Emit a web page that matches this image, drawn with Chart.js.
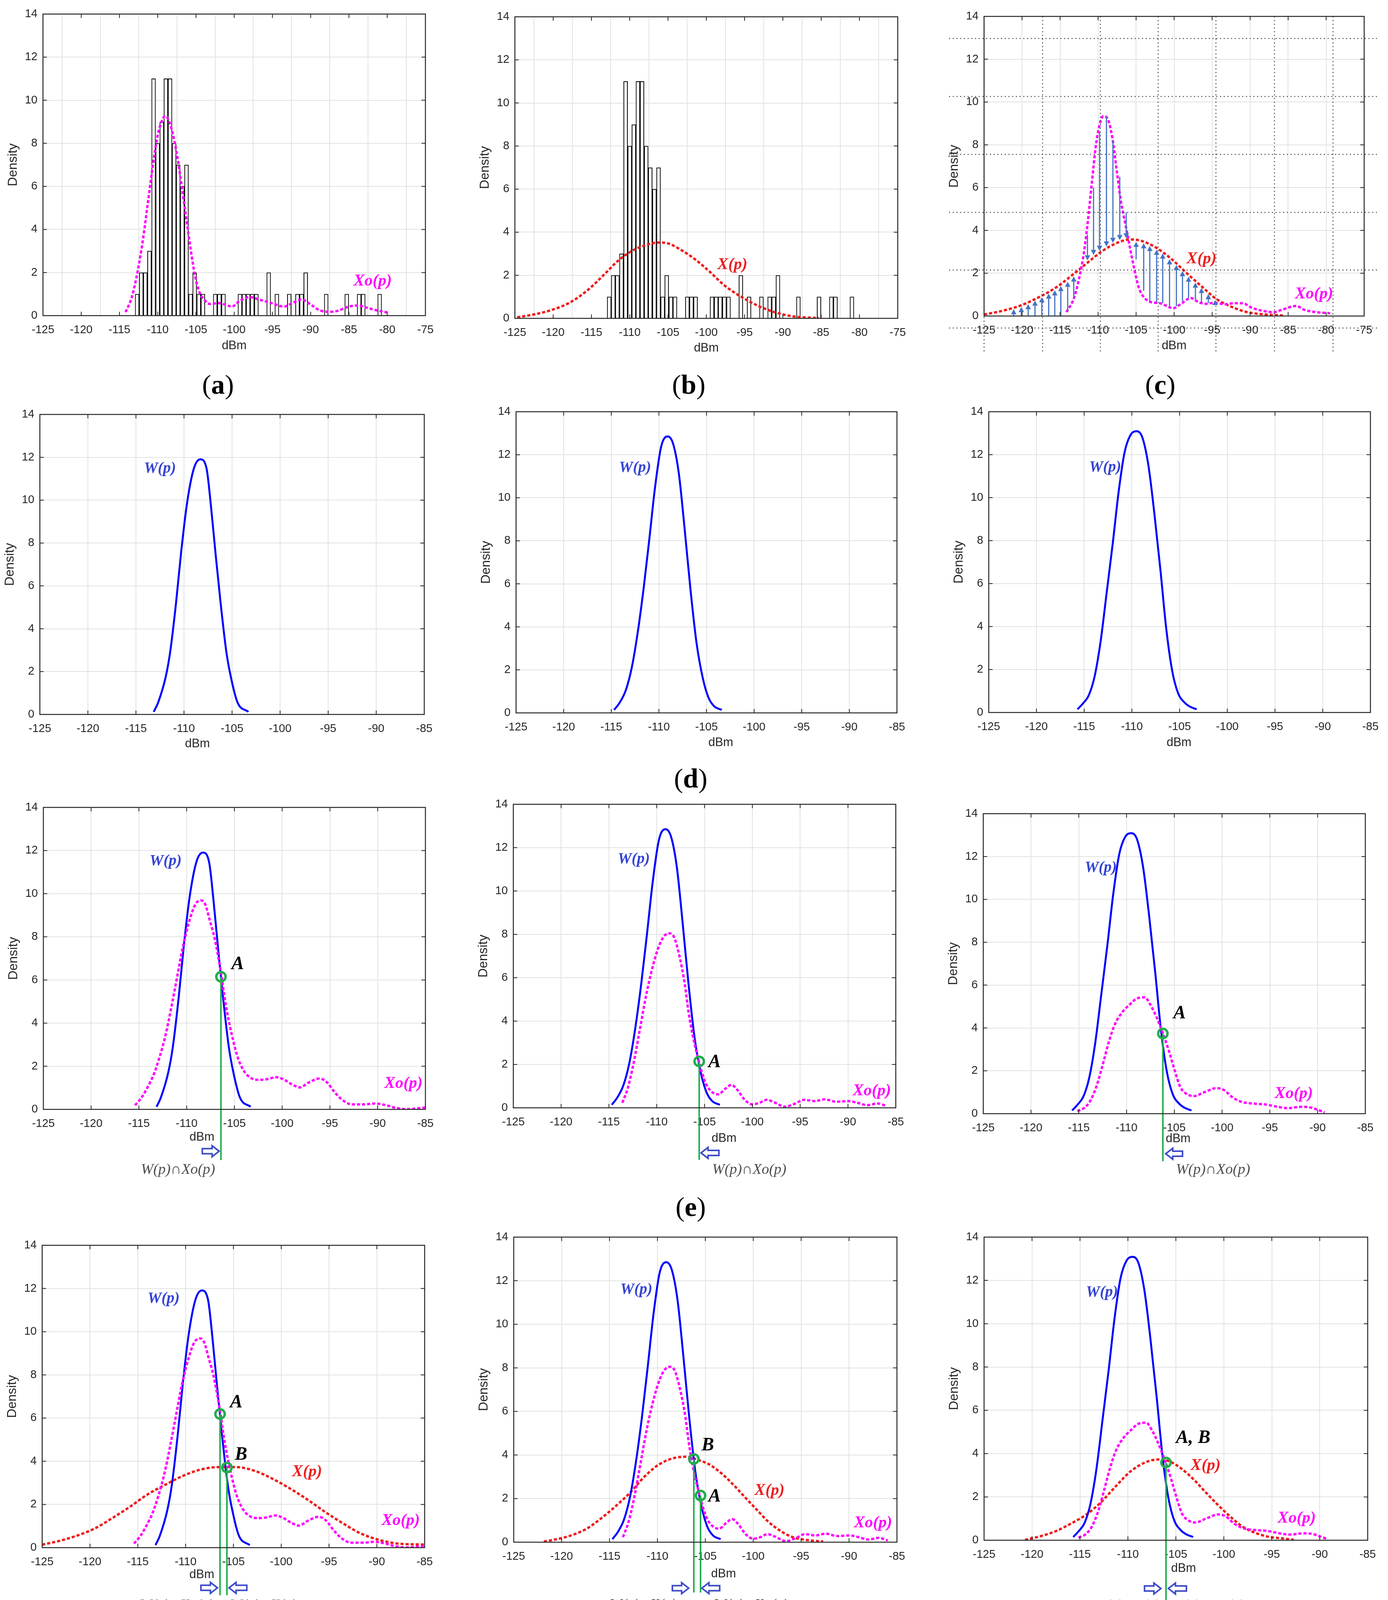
<!DOCTYPE html>
<html>
<head>
<meta charset="utf-8">
<title>Density</title>
<script src="https://cdn.jsdelivr.net/npm/chart.js@4.4.0/dist/chart.umd.min.js"></script>
<style>
  html, body { margin: 0; padding: 0; background: #fff; }
  body { position: relative; width: 3553px; height: 4352px; overflow: hidden; }
  canvas { position: absolute; z-index: 1; }
  .cap { position: absolute; z-index: 2; transform: translate(-50%, -50%); font-family: "Liberation Serif", "DejaVu Serif", serif;
         color: #000; white-space: nowrap; line-height: 1; }
</style>
</head>
<body>
<div class="cap" style="left:558px;top:985px;font-size:70px">(<b>a</b>)</div>
<div class="cap" style="left:1763px;top:985px;font-size:70px">(<b>b</b>)</div>
<div class="cap" style="left:2970px;top:985px;font-size:70px">(<b>c</b>)</div>
<div class="cap" style="left:1768px;top:1993px;font-size:70px">(<b>d</b>)</div>
<div class="cap" style="left:1768px;top:3090px;font-size:70px">(<b>e</b>)</div>
<div class="cap" style="left:560px;top:4197px;font-size:76px"><i>A</i>′ &lt; <i>B</i>′</div>
<div class="cap" style="left:1772px;top:4197px;font-size:76px"><i>B</i>′ &lt; <i>A</i>′</div>
<div class="cap" style="left:2980px;top:4197px;font-size:76px"><i>A</i>′ ≃ <i>B</i>′</div>
<div class="cap" style="left:1772px;top:4296px;font-size:70px">(<b>f</b>)</div>
<script>
// histogram of the measured samples (bin centre in dBm, count)
let binCentres = [-112.69, -112.15, -111.62, -111.08, -110.54, -110.00, -109.47, -108.93, -108.39, -107.85,
  -107.32, -106.78, -106.24, -105.70, -105.17, -104.63, -104.09, -102.48, -101.94, -101.40,
  -99.25, -98.71, -98.18, -97.64, -97.10, -95.49, -94.42, -92.80, -91.73, -91.19,
  -90.65, -87.97, -85.28, -83.67, -83.13, -80.98];
let binCounts = [1, 2, 2, 3, 11, 8, 9, 11, 11, 8,
  7, 6, 7, 1, 2, 1, 1, 1, 1, 1,
  1, 1, 1, 1, 1, 2, 1, 1, 1, 1,
  2, 1, 1, 1, 1, 1];

// Xo(p) panel a
let xoA = [[-114.2,0.16],[-113.4,0.84],[-112.6,2.1],[-111.9,3.6],[-111.3,5.2],[-110.7,6.8],[-110.1,8.2],[-109.6,8.9],
  [-109.05,9.26],[-108.6,9.1],[-108.0,8.4],[-107.4,7.3],[-106.9,6.1],[-106.3,4.6],[-105.7,3.1],[-105.1,1.8],
  [-104.5,1.05],[-103.9,0.73],[-103.2,0.54],[-102.0,0.58],[-101.1,0.5],[-100.3,0.42],[-99.3,0.68],[-98.0,0.86],
  [-96.6,0.73],[-95.1,0.58],[-93.5,0.42],[-92.4,0.58],[-91.2,0.75],[-90.1,0.54],[-88.9,0.26],[-87.7,0.18],
  [-86.6,0.21],[-85.0,0.42],[-83.7,0.47],[-82.7,0.37],[-81.2,0.23],[-79.7,0.13]];
// X(p) panel b
let xB = [[-124.7,0.05],[-122.4,0.19],[-120.1,0.4],[-117.7,0.76],[-115.4,1.34],[-113.1,2.12],[-111.6,2.65],
  [-110.0,3.07],[-108.1,3.38],[-106.2,3.52],[-105.0,3.48],[-103.5,3.22],[-101.5,2.75],[-99.6,2.18],[-97.7,1.55],
  [-95.8,1.08],[-93.4,0.61],[-91.1,0.29],[-88.8,0.1],[-85.3,0.01]];
// Xo(p) and X(p) panel c
let xoC = [[-114.17,0.18],[-113.2,0.81],[-112.6,1.6],[-112.0,2.65],[-111.44,4.13],[-110.85,6.13],[-110.27,8.02],
  [-109.7,9.07],[-109.3,9.34],[-108.7,9.18],[-108.13,8.34],[-107.54,6.76],[-106.96,5.28],[-106.37,4.23],
  [-105.8,3.18],[-105.2,2.13],[-104.6,1.28],[-103.8,0.81],[-103.06,0.65],[-101.9,0.6],[-101.1,0.49],[-100.14,0.36],
  [-99.16,0.55],[-97.8,0.84],[-96.8,0.65],[-95.85,0.57],[-94.68,0.62],[-93.3,0.55],[-92.15,0.6],[-91.0,0.6],
  [-89.8,0.39],[-88.45,0.25],[-86.9,0.18],[-85.9,0.28],[-83.96,0.47],[-82.8,0.28],[-81.24,0.18],[-79.48,0.13]];
let xC = [[-125,0.07],[-122.5,0.25],[-120.2,0.49],[-117.9,0.86],[-115.5,1.34],[-113.2,1.97],[-111.2,2.55],
  [-109.3,3.07],[-107.35,3.44],[-105.8,3.58],[-104.2,3.5],[-102.3,3.18],[-100.3,2.65],[-98.4,2.02],[-96.4,1.39],
  [-94.5,0.81],[-92.5,0.44],[-90.6,0.2],[-88.6,0.09],[-85.5,0.02]];
// arrows of panel c: [dBm, from, to]
let arrowsC = [[-121.1,0,0.32],[-120.1,0,0.42],[-119.2,0,0.55],[-118.3,0,0.72],[-117.4,0,0.88],[-116.5,0,1.05],
  [-115.7,0,1.2],[-114.9,0,1.4],[-114.0,0.2,1.6],[-113.2,0.8,1.85],
  [-111.4,3.8,2.6],[-110.6,6.0,2.85],[-109.8,8.6,3.05],[-108.9,9.3,3.25],[-108.05,8.2,3.42],[-107.15,6.5,3.55],[-106.3,4.85,3.63],
  [-105.0,2.65,3.47],[-104.0,1.18,3.4],[-103.2,0.7,3.27],[-102.3,0.65,3.1],[-101.5,0.6,2.92],[-100.6,0.4,2.65],
  [-99.7,0.46,2.38],[-98.9,0.7,2.1],[-98.1,0.84,1.84],[-97.2,0.75,1.56],[-96.4,0.6,1.31],[-95.5,0.6,1.02],[-94.6,0.6,0.75]];

// W(p) of the three cases
let w1 = [[-113.15,0.12],[-112.69,0.56],[-111.92,1.72],[-111.45,2.88],[-110.83,5.2],[-110.31,7.52],[-109.69,9.84],
  [-108.98,11.47],[-108.3,11.91],[-107.65,11.47],[-107.22,9.84],[-106.72,7.52],[-106.19,5.2],[-105.58,2.88],
  [-105.11,1.72],[-104.43,0.56],[-103.3,0.12]];
let w2 = [[-114.7,0.14],[-114.1,0.49],[-113.47,1.06],[-112.85,2.1],[-112.23,3.72],[-111.6,5.8],[-111.0,8.1],
  [-110.4,10.5],[-109.76,12.38],[-109.08,12.85],[-108.5,12.5],[-107.9,11.11],[-107.3,8.57],[-106.67,5.68],
  [-106.05,3.26],[-105.4,1.64],[-104.8,0.72],[-104.2,0.31],[-103.4,0.14]];
let w3 = [[-115.7,0.15],[-115.15,0.41],[-114.5,0.82],[-113.9,1.69],[-113.27,3.33],[-112.65,5.55],[-112.0,7.89],
  [-111.4,10.23],[-110.77,12.1],[-110.15,12.91],[-109.46,13.09],[-108.9,12.8],[-108.27,11.51],[-107.65,9.29],
  [-107.0,6.6],[-106.4,3.91],[-105.77,1.93],[-105.14,0.88],[-104.5,0.47],[-103.9,0.27],[-103.2,0.15]];

// Xo(p) of the three cases
let xo1 = [[-115.4,0.19],[-114.7,0.56],[-114.1,1.02],[-113.46,1.6],[-112.84,2.41],[-112.2,3.46],[-111.6,4.74],
  [-111.0,6.13],[-110.4,7.52],[-109.75,8.68],[-109.1,9.5],[-108.5,9.69],[-108.05,9.5],[-107.6,8.8],[-107.1,7.99],
  [-106.5,6.6],[-105.9,4.85],[-105.27,3.46],[-104.65,2.41],[-104.0,1.78],[-103.4,1.49],[-102.6,1.37],[-101.7,1.39],
  [-100.6,1.49],[-99.85,1.39],[-98.9,1.14],[-98.15,1.02],[-97.2,1.25],[-96.1,1.43],[-95.3,1.25],[-94.6,0.85],
  [-93.7,0.44],[-92.7,0.23],[-91.5,0.23],[-90.26,0.27],[-89.3,0.21],[-88.1,0.07],[-86.9,0.01],[-85.6,0.06],[-85.0,0.09]];
let xo2 = [[-113.6,0.23],[-113.0,0.95],[-112.4,2.1],[-111.77,3.6],[-111.15,5.1],[-110.5,6.38],[-109.9,7.3],
  [-109.3,7.88],[-108.7,8.05],[-108.2,7.88],[-107.6,6.95],[-107.1,5.8],[-106.67,4.41],[-106.2,3.26],[-105.7,2.33],
  [-105.28,1.64],[-104.8,1.06],[-104.2,0.72],[-103.58,0.62],[-102.8,0.89],[-102.2,1.06],[-101.57,0.83],[-100.8,0.37],
  [-100.0,0.16],[-99.25,0.23],[-98.5,0.37],[-97.7,0.25],[-96.6,0.05],[-95.5,0.2],[-94.6,0.37],[-93.5,0.31],
  [-92.45,0.39],[-91.2,0.28],[-89.97,0.31],[-89.0,0.23],[-87.97,0.12],[-86.9,0.2],[-85.96,0.08]];
let xo3 = [[-115.15,0.12],[-114.37,0.29],[-113.75,0.64],[-113.1,1.34],[-112.5,2.28],[-111.87,3.33],[-111.24,4.15],
  [-110.46,4.73],[-109.7,5.08],[-108.9,5.38],[-108.1,5.43],[-107.5,5.08],[-106.86,4.5],[-106.24,3.8],[-105.6,2.98],
  [-104.98,2.05],[-104.36,1.23],[-103.74,0.93],[-102.96,0.82],[-101.86,1.0],[-100.6,1.19],[-99.83,1.11],[-98.9,0.76],
  [-97.95,0.55],[-96.7,0.47],[-95.45,0.43],[-94.2,0.32],[-93.1,0.26],[-91.7,0.32],[-90.76,0.29],[-89.98,0.18],[-89.26,0.06]];

// X(p) of the three cases
let x1 = [[-125,0.14],[-123.24,0.31],[-121.4,0.55],[-119.5,0.89],[-117.7,1.36],[-115.8,1.9],[-114.0,2.46],
  [-112.1,2.92],[-110.26,3.33],[-108.4,3.62],[-106.5,3.73],[-104.7,3.73],[-102.8,3.56],[-101.0,3.21],[-99.13,2.75],
  [-97.27,2.23],[-95.4,1.65],[-93.56,1.13],[-91.7,0.66],[-89.85,0.37],[-88.0,0.2],[-85,0.14]];
let x2 = [[-121.85,0.03],[-120.6,0.13],[-119.08,0.3],[-117.5,0.59],[-116.0,1.05],[-114.45,1.62],[-112.9,2.25],
  [-111.37,3.0],[-109.83,3.57],[-108.3,3.86],[-107.05,3.92],[-105.8,3.78],[-104.6,3.57],[-103.35,3.17],[-102.1,2.65],
  [-100.9,2.08],[-99.65,1.5],[-98.4,0.93],[-97.2,0.53],[-95.95,0.24],[-94.4,0.1],[-92.7,0.03]];
let x3 = [[-120.73,0.02],[-119.0,0.2],[-117.46,0.43],[-115.9,0.78],[-114.35,1.18],[-112.8,1.76],[-111.23,2.51],
  [-109.67,3.2],[-108.1,3.61],[-106.87,3.73],[-105.6,3.63],[-104.38,3.29],[-103.13,2.8],[-101.9,2.22],[-100.64,1.64],
  [-99.4,1.12],[-98.15,0.66],[-96.9,0.37],[-95.34,0.16],[-93.8,0.08],[-92.7,0.02]];

const MAG = '#ff00ff', RED = '#f01c1c', BLUE = '#0000ff', GREEN = '#1fae4a';
const SANS = '"Liberation Sans", Arial, sans-serif';
const SERIF = '"Liberation Serif", "DejaVu Serif", serif';
const WY = 110, HX = 330, PADT = 20, PADR = 50;

let labStyle = {
  w:  ['bold italic 40px ' + SERIF, '#3444d4'],
  x:  ['bold italic 42px ' + SERIF, '#ee2020'],
  xo: ['bold italic 42px ' + SERIF, '#ff00ff'],
  pt: ['bold italic 48px ' + SERIF, '#000000']
};

// page layout: plot rectangle [left, top, right, bottom] of every panel
let panels = [
  {rect:[110,36,1089,808], xmax:-75, hist:true, xo:xoA, dbm:[-100,-1.41],
   labels:[['Xo(p)',-81.9,1.59,'xo']]},
  {rect:[1318,43,2298,815], xmax:-75, hist:true, x:xB, dbm:[-100,-1.38],
   labels:[['X(p)',-96.6,2.49,'x']]},
  {rect:[2519,42,3492,809], xmax:-75, xo:xoC, x:xC, arrows:arrowsC, dotted:true, dbm:[-100,-1.4],
   labels:[['X(p)',-96.4,2.67,'x'],['Xo(p)',-81.6,1.02,'xo']]},

  {rect:[102,1061,1086,1829], xmax:-85, w:w1, dbm:[-108.6,-1.37], labels:[['W(p)',-112.5,11.47,'w']]},
  {rect:[1321,1054,2296,1825], xmax:-85, w:w2, dbm:[-103.5,-1.38], labels:[['W(p)',-112.5,11.4,'w']]},
  {rect:[2531,1054,3508,1824], xmax:-85, w:w3, dbm:[-105.06,-1.4], labels:[['W(p)',-112.8,11.4,'w']]},

  {rect:[111,2067,1089,2840], xmax:-85, w:w1, xo:xo1, dbm:[-108.4,-1.3],
   labels:[['W(p)',-112.2,11.5,'w'],['Xo(p)',-87.3,1.2,'xo'],['A',-104.65,6.73,'pt']],
   marks:[[-106.41,6.15,-2.35]], blk:[[1,-108.36,-106.6,-1.94]],
   txt:[['W(p)∩Xo(p)',-110.9,-2.81,'center']]},
  {rect:[1314,2059,2293,2836], xmax:-85, w:w2, xo:xo2, dbm:[-102.96,-1.42],
   labels:[['W(p)',-112.4,11.46,'w'],['Xo(p)',-87.5,0.77,'xo'],['A',-103.95,2.1,'pt']],
   marks:[[-105.56,2.14,-2.4]], blk:[[-1,-105.37,-103.5,-2.08]],
   txt:[['W(p)∩Xo(p)',-104.2,-2.86,'left']]},
  {rect:[2517,2083,3495,2851], xmax:-85, w:w3, xo:xo3, dbm:[-104.6,-1.17],
   labels:[['W(p)',-112.7,11.48,'w'],['Xo(p)',-92.5,0.93,'xo'],['A',-104.45,4.67,'pt']],
   marks:[[-106.2,3.74,-2.22]], blk:[[-1,-105.9,-104.14,-1.87]],
   txt:[['W(p)∩Xo(p)',-104.83,-2.63,'left']]},

  {rect:[108,3188,1087,3962], xmax:-85, w:w1, xo:xo1, x:x1, dbm:[-108.3,-1.25],
   labels:[['W(p)',-112.3,11.53,'w'],['Xo(p)',-87.5,1.24,'xo'],['X(p)',-97.3,3.5,'x'],['A',-104.7,6.72,'pt'],['B',-104.2,4.29,'pt']],
   marks:[[-106.4,6.19,-2.2],[-105.68,3.71,-2.2]], blk:[[1,-108.4,-106.67,-1.86],[-1,-105.46,-103.6,-1.86]],
   txt:[['W(p)∩Xo(p)',-110.94,-2.67,'center'],['W(p)∩X(p)',-105.37,-2.67,'left']]},
  {rect:[1315,3167,2296,3948], xmax:-85, w:w2, xo:xo2, x:x2, dbm:[-103.1,-1.46],
   labels:[['W(p)',-112.2,11.59,'w'],['Xo(p)',-87.5,0.87,'xo'],['X(p)',-98.3,2.37,'x'],['B',-104.74,4.43,'pt'],['A',-104.03,2.08,'pt']],
   marks:[[-106.2,3.82,-2.31],[-105.5,2.14,-2.31]], blk:[[1,-108.44,-106.74,-2.11],[-1,-105.36,-103.5,-2.11]],
   txt:[['W(p)∩X(p)',-111.5,-2.88,'center'],['W(p)∩Xo(p)',-104.1,-2.88,'left']]},
  {rect:[2519,3167,3501,3943], xmax:-85, w:w3, xo:xo3, x:x3, dbm:[-104.2,-1.31],
   labels:[['W(p)',-112.7,11.45,'w'],['Xo(p)',-92.4,1.0,'xo'],['X(p)',-101.9,3.44,'x'],['A, B',-103.2,4.71,'pt']],
   marks:[[-106.03,3.59,-2.87]], blk:[[1,-108.27,-106.56,-2.23],[-1,-105.78,-103.9,-2.23]],
   txt:[['W(p)∩X(p)',-110.14,-3.04,'center'],['W(p)∩Xo(p)',-105.6,-3.04,'left']]}
];

function pts(arr) { return arr.map(p => ({x: p[0], y: p[1]})); }

function curve(arr, kind) {
  let st = {
    xo: {borderColor: MAG, borderWidth: 6, borderDash: [8, 5], order: 2},
    x:  {borderColor: RED, borderWidth: 6, borderDash: [8, 5], order: 4},
    w:  {borderColor: BLUE, borderWidth: 5, order: 3}
  }[kind];
  return Object.assign({type: 'line', data: pts(arr), pointRadius: 0, fill: false,
    cubicInterpolationMode: 'monotone'}, st);
}

function putText(ctx, s, x, y, font, color, align) {
  ctx.font = font;
  ctx.fillStyle = color;
  ctx.textAlign = align || 'center';
  ctx.textBaseline = 'middle';
  ctx.fillText(s, x, y);
}

// outlined block arrow, dir 1 = points right
function blockArrow(ctx, xa, xb, y, dir) {
  let len = xb - xa, head = 18, sh = 6.5, hh = 14;
  ctx.save();
  ctx.translate(dir > 0 ? xa : xb, y);
  ctx.scale(dir, 1);
  ctx.beginPath();
  ctx.moveTo(0, -sh); ctx.lineTo(len - head, -sh); ctx.lineTo(len - head, -hh); ctx.lineTo(len, 0);
  ctx.lineTo(len - head, hh); ctx.lineTo(len - head, sh); ctx.lineTo(0, sh); ctx.closePath();
  ctx.fillStyle = '#fff'; ctx.fill();
  ctx.lineWidth = 4; ctx.strokeStyle = '#3c4cc8'; ctx.stroke();
  ctx.restore();
}

function thinArrow(ctx, x, y0, y1) {
  let d = y1 < y0 ? -1 : 1, head = 13, hw = 7;
  ctx.beginPath(); ctx.moveTo(x, y0); ctx.lineTo(x, y1 - d * head); ctx.stroke();
  ctx.beginPath(); ctx.moveTo(x, y1); ctx.lineTo(x - hw, y1 - d * head); ctx.lineTo(x + hw, y1 - d * head);
  ctx.closePath(); ctx.fill();
}

function deco(p) {
  return {
    id: 'deco',
    afterDraw(chart) {
      let ctx = chart.ctx, a = chart.chartArea;
      let xs = chart.scales.x, ys = chart.scales.y;
      let px = v => xs.getPixelForValue(v), py = v => ys.getPixelForValue(v);
      ctx.save();

      // extra dotted lines of panel c
      if (p.dotted) {
        ctx.setLineDash([2.5, 7]);
        ctx.strokeStyle = '#3a3a3a'; ctx.lineWidth = 2.5;
        [12.97, 10.26, 7.55, 4.84, 2.15, -0.56].forEach(v => {
          ctx.beginPath(); ctx.moveTo(px(-129.6), py(v)); ctx.lineTo(px(-73), py(v)); ctx.stroke();
        });
        [-125, -117.3, -109.7, -102.1, -94.5, -86.8, -79.1].forEach(v => {
          ctx.beginPath(); ctx.moveTo(px(v), py(14)); ctx.lineTo(px(v), py(-1.67)); ctx.stroke();
        });
        ctx.setLineDash([]);
      }

      // arrows from Xo(p) to X(p)
      if (p.arrows) {
        ctx.strokeStyle = '#4472c4'; ctx.fillStyle = '#4472c4'; ctx.lineWidth = 3;
        p.arrows.forEach(r => thinArrow(ctx, px(r[0]), py(r[1]), py(r[2])));
      }

      // box and inner ticks
      ctx.strokeStyle = '#262626'; ctx.lineWidth = 2.5;
      ctx.strokeRect(a.left, a.top, a.right - a.left, a.bottom - a.top);
      ctx.lineWidth = 2;
      xs.ticks.forEach(t => {
        let x = px(t.value);
        ctx.beginPath(); ctx.moveTo(x, a.bottom); ctx.lineTo(x, a.bottom - 10);
        ctx.moveTo(x, a.top); ctx.lineTo(x, a.top + 10); ctx.stroke();
      });
      ys.ticks.forEach(t => {
        let y = py(t.value);
        ctx.beginPath(); ctx.moveTo(a.left, y); ctx.lineTo(a.left + 10, y);
        ctx.moveTo(a.right, y); ctx.lineTo(a.right - 10, y); ctx.stroke();
      });

      // axis title and curve names
      putText(ctx, 'dBm', px(p.dbm[0]), py(p.dbm[1]), '31px ' + SANS, '#262626', 'center');
      (p.labels || []).forEach(l => {
        let s = labStyle[l[3]];
        putText(ctx, l[0], px(l[1]), py(l[2]), s[0], s[1], 'center');
      });
      (p.blk || []).forEach(b => blockArrow(ctx, px(b[1]), px(b[2]), py(b[3]), b[0]));
      (p.txt || []).forEach(t => putText(ctx, t[0], px(t[1]), py(t[2]), 'italic 38px ' + SERIF, '#4d4d4d', t[3]));
      ctx.restore();
    }
  };
}

function makePanel(p) {
  let [l, t, r, b] = p.rect;
  let W = r - l + WY + PADR, H = b - t + PADT + HX;
  let cv = document.createElement('canvas');
  cv.width = W; cv.height = H;
  cv.style.left = (l - WY) + 'px';
  cv.style.top = (t - PADT) + 'px';
  cv.style.width = W + 'px';
  cv.style.height = H + 'px';
  document.body.appendChild(cv);

  let ds = [];
  if (p.hist) {
    ds.push({type: 'bar', data: binCentres.map((c, i) => ({x: c, y: binCounts[i]})),
      backgroundColor: '#ffffff', borderColor: '#000000', borderWidth: 2,
      barPercentage: 1, categoryPercentage: 1, order: 6});
  }
  if (p.x) ds.push(curve(p.x, 'x'));
  if (p.w) ds.push(curve(p.w, 'w'));
  if (p.xo) ds.push(curve(p.xo, 'xo'));
  (p.marks || []).forEach(m => {
    ds.push({type: 'line', data: [{x: m[0], y: m[1]}, {x: m[0], y: m[2]}], borderColor: GREEN,
      borderWidth: 4, pointRadius: 0, tension: 0, clip: false, order: 1});
    ds.push({type: 'line', data: [{x: m[0], y: m[1]}], showLine: false, pointRadius: 12,
      pointBorderWidth: 6, pointBorderColor: GREEN, pointBackgroundColor: 'rgba(0,0,0,0)', clip: false, order: 0});
  });

  let tickFont = {family: SANS, size: 29};
  new Chart(cv.getContext('2d'), {
    type: 'line',
    data: {datasets: ds},
    options: {
      responsive: false,
      animation: false,
      devicePixelRatio: 1,
      events: [],
      layout: {padding: {left: 0, top: PADT, right: PADR, bottom: 0}},
      plugins: {legend: {display: false}, tooltip: {enabled: false}},
      scales: {
        x: {
          type: 'linear', min: -125, max: p.xmax, offset: false,
          ticks: {stepSize: 5, autoSkip: false, maxRotation: 0, color: '#262626', font: tickFont, padding: 20},
          grid: {color: '#e2e2e2', lineWidth: 2, drawTicks: false},
          border: {display: false},
          afterFit(s) { s.height = HX; s.paddingLeft = 0; s.paddingRight = 0; }
        },
        y: {
          type: 'linear', min: 0, max: 14,
          ticks: {stepSize: 2, color: '#262626', font: tickFont, padding: 14},
          grid: {color: '#e2e2e2', lineWidth: 2, drawTicks: false},
          border: {display: false},
          title: {display: true, text: 'Density', color: '#262626', font: {family: SANS, size: 33}, padding: {top: 14, bottom: 0}},
          afterFit(s) { s.width = WY; s.paddingTop = 0; s.paddingBottom = 0; }
        }
      }
    },
    plugins: [deco(p)]
  });
}

panels.forEach(makePanel);
</script>
</body>
</html>
